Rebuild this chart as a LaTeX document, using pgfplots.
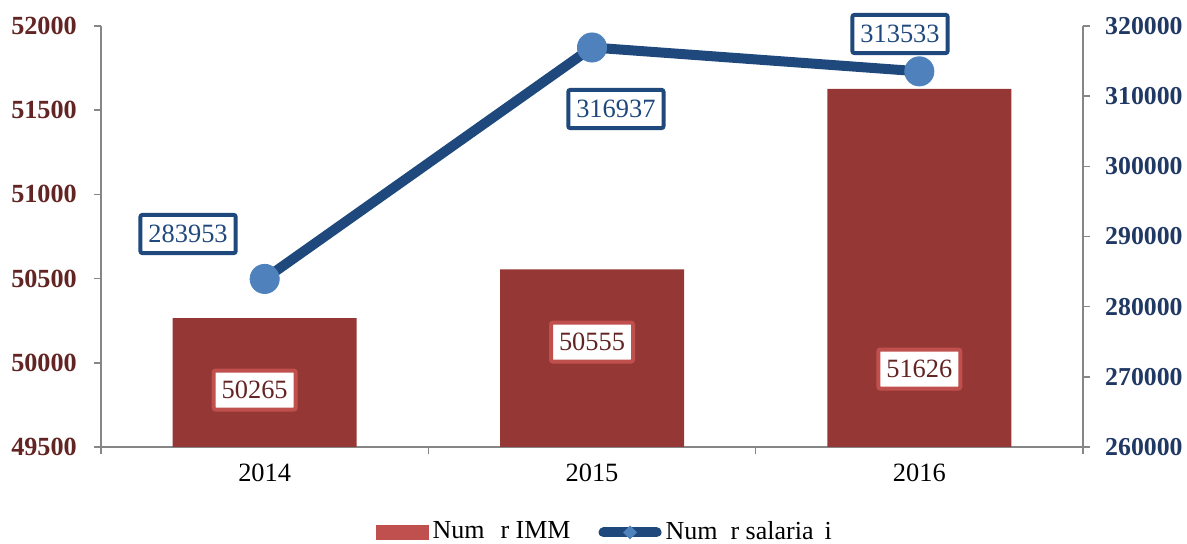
\documentclass[border=0pt]{standalone}
\usepackage{fontspec}
\setmainfont{Liberation Serif}
\usepackage{pgfplots}
\pgfplotsset{compat=1.18}
\usetikzlibrary{shapes.geometric}
\definecolor{barred}{HTML}{953735}
\definecolor{lightred}{HTML}{C0504D}
\definecolor{darkred}{HTML}{632523}
\definecolor{linecol}{HTML}{1F497D}
\definecolor{markcol}{HTML}{4F81BD}
\definecolor{rightblue}{HTML}{203864}
\definecolor{axisgray}{HTML}{868686}
\tikzset{
  barlab/.style={draw=lightred, line width=2pt, rounded corners=1pt, fill=white, text=darkred,
    inner xsep=4pt, inner ysep=5pt, text height=9.2pt, text depth=0.3pt, font=\fontsize{13.2}{16}\selectfont},
  linelab/.style={draw=linecol, line width=2pt, rounded corners=1pt, fill=white, text=linecol,
    inner xsep=4pt, inner ysep=4.8pt, text height=9.2pt, text depth=0.3pt, font=\fontsize{13.2}{16}\selectfont},
}
\pgfplotsset{
  common/.style={
    scale only axis, width=491pt, height=210.5pt,
    xmin=-0.5, xmax=2.5,
    clip mode=individual,
    tick align=outside,
    scaled y ticks=false,
    axis line style={draw=axisgray, line width=0.8pt},
    every tick/.style={draw=axisgray, line width=0.8pt},
    major tick length=3.5pt,
    /pgf/number format/fixed,
    /pgf/number format/precision=0,
    /pgf/number format/assume math mode=true,
    /pgf/number format/1000 sep={},
    tick label style={font=\fontsize{13.2}{16}\selectfont},
  }
}
\begin{document}
\fontsize{13.2}{16}\selectfont
\begin{tikzpicture}
\begin{axis}[common,
  ymin=49500, ymax=52000,
  ytick={49500,50000,50500,51000,51500,52000},
  xtick={-0.5,0.5,1.5,2.5}, xticklabels={},
  extra x ticks={0,1,2}, extra x tick labels={2014,2015,2016},
  extra x tick style={major tick length=0pt, xticklabel style={yshift=-4pt, text=black}},
  axis x line*=bottom, axis y line*=left,
  yticklabel style={font=\fontsize{13.1}{16}\selectfont\bfseries, text=darkred, xshift=-4pt},
  ybar, bar width=92pt,
]
\addplot[fill=barred, draw=none] coordinates {(0,50265) (1,50555) (2,51626)};
\node[barlab] at (axis cs:-0.0306,49838) {50265};
\node[barlab] at (axis cs:1,50123) {50555};
\node[barlab] at (axis cs:2,49963) {51626};
\end{axis}
\begin{axis}[common,
  ymin=260000, ymax=320000,
  ytick={260000,270000,280000,290000,300000,310000,320000},
  axis y line*=right, axis x line=none,
  yticklabel style={font=\fontsize{12.9}{16}\selectfont\bfseries, text=rightblue, xshift=3pt},
  legend style={at={(0.514,-0.203)}, anchor=center, draw=none, fill=none,
    font=\fontsize{13}{16}\selectfont,
    /tikz/every even column/.append style={column sep=12pt}},
  legend columns=2,
]
\addlegendimage{legend image code/.code={\fill[lightred] (0pt,-3.5pt) rectangle (26pt,3.5pt);}}
\addlegendentry{Num\hspace{8pt}r IMM}
\addplot[linecol, line width=5pt, mark=*, mark size=7.3pt,
  mark options={fill=markcol, draw=markcol, line width=0.4pt},
  legend image code/.code={\draw[line width=5pt, line cap=round, linecol] (2.5pt,0) -- (29pt,0);
    \node[diamond, fill=markcol, inner sep=0pt, minimum width=9pt, minimum height=9pt] at (15.75pt,0) {};}]
  coordinates {(0,283953) (1,316937) (2,313533)};
\addlegendentry{Num\hspace{6.5pt}r salaria\hspace{5.5pt}i}
\node[linelab] at (axis cs:-0.234,290356) {283953};
\node[linelab] at (axis cs:1.073,308171) {316937};
\node[linelab] at (axis cs:1.941,318860) {313533};
\end{axis}
\pgfresetboundingbox
\path[use as bounding box] (-50.5pt,-48.5pt) rectangle (543pt,223.5pt);
\end{tikzpicture}
\end{document}
